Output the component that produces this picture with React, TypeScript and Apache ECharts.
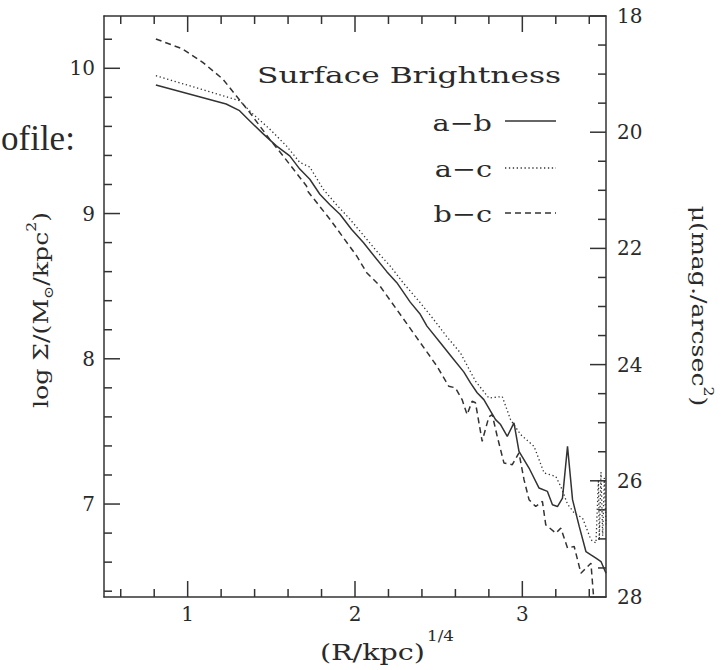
import React, { useEffect, useRef } from "react";
import * as echarts from "echarts";

// (R/kpc)^(1/4) vs log Sigma for three colour combinations
const xAB = [0.81, 1.23, 1.31, 1.37, 1.45, 1.53, 1.61, 1.67, 1.73, 1.79, 1.85, 1.91, 1.98, 2.05, 2.13, 2.19, 2.25, 2.33, 2.39, 2.43, 2.51, 2.59, 2.65, 2.69, 2.73, 2.77, 2.81, 2.84, 2.87, 2.91, 2.95, 2.98, 3.04, 3.10, 3.15, 3.18, 3.21, 3.24, 3.27, 3.30, 3.34, 3.38, 3.41, 3.44, 3.47, 3.50];
const yAB = [9.885, 9.754, 9.708, 9.639, 9.55, 9.466, 9.397, 9.306, 9.236, 9.133, 9.06, 8.995, 8.89, 8.80, 8.685, 8.60, 8.524, 8.39, 8.306, 8.225, 8.11, 7.995, 7.91, 7.834, 7.766, 7.719, 7.639, 7.581, 7.547, 7.466, 7.559, 7.363, 7.248, 7.11, 7.087, 6.995, 6.983, 7.041, 7.397, 7.03, 6.846, 6.673, 6.65, 6.628, 6.604, 6.524];

const xAC = [0.81, 1.31, 1.39, 1.49, 1.59, 1.67, 1.73, 1.81, 1.89, 1.97, 2.07, 2.13, 2.21, 2.29, 2.39, 2.47, 2.55, 2.63, 2.72, 2.80, 2.88, 2.93, 2.99, 3.07, 3.13, 3.20, 3.23, 3.27, 3.31, 3.36, 3.41, 3.44, 3.455, 3.46, 3.47, 3.48, 3.49, 3.50];
const yAC = [9.949, 9.777, 9.685, 9.582, 9.466, 9.352, 9.32, 9.168, 9.06, 8.961, 8.823, 8.74, 8.639, 8.52, 8.386, 8.271, 8.15, 8.041, 7.846, 7.73, 7.74, 7.58, 7.478, 7.397, 7.214, 7.19, 7.12, 7.0, 6.938, 6.903, 6.754, 6.731, 7.17, 6.75, 7.22, 6.78, 7.18, 6.86];

const xBC = [0.81, 0.97, 1.09, 1.21, 1.29, 1.37, 1.49, 1.57, 1.71, 1.72, 1.85, 2.01, 2.07, 2.15, 2.32, 2.49, 2.56, 2.60, 2.64, 2.67, 2.70, 2.72, 2.76, 2.80, 2.82, 2.85, 2.89, 2.94, 2.98, 3.01, 3.04, 3.08, 3.12, 3.14, 3.20, 3.23, 3.27, 3.31, 3.35, 3.39, 3.41, 3.43];
const yBC = [10.202, 10.133, 10.041, 9.926, 9.811, 9.697, 9.512, 9.397, 9.19, 9.15, 8.961, 8.708, 8.593, 8.50, 8.225, 7.949, 7.811, 7.80, 7.719, 7.616, 7.708, 7.697, 7.432, 7.60, 7.616, 7.466, 7.283, 7.271, 7.352, 7.168, 7.03, 6.983, 7.018, 6.857, 6.80, 6.834, 6.697, 6.708, 6.524, 6.57, 6.593, 6.30];

const seriesNames = ["a\u2212b", "a\u2212c", "b\u2212c"];

const X_MIN = 0.5, X_MAX = 3.5;
const L_MIN = 6.36, L_MAX = 10.36;
const R_MIN = 18, R_MAX = 28;

const xMajor = [1, 2, 3];
const xMinor = [0.6, 0.8, 1.2, 1.4, 1.6, 1.8, 2.2, 2.4, 2.6, 2.8, 3.2, 3.4];
const leftMajor = [7, 8, 9, 10];
const leftMinor = [6.4, 6.6, 6.8, 7.2, 7.4, 7.6, 7.8, 8.2, 8.4, 8.6, 8.8, 9.2, 9.4, 9.6, 9.8, 10.2];
const rightMajor = [18, 20, 22, 24, 26, 28];
const rightMinor = [18.5, 19, 19.5, 20.5, 21, 21.5, 22.5, 23, 23.5, 24.5, 25, 25.5, 26.5, 27, 27.5];

const FONT = "DejaVu Serif";
const INK = "#2a2a2a";
const LINE = "#333333";
const MAJOR_LEN = 16;
const MINOR_LEN = 8;

function pairs(xs: number[], ys: number[]) {
  return xs.map((x, i) => [x, ys[i]]);
}

export default function App() {
  const ref = useRef<HTMLDivElement>(null);
  useEffect(() => {
    if (!ref.current) return;
    const chart = echarts.init(ref.current, null, { renderer: "svg" });
    const axisLine = { show: true, onZero: false, lineStyle: { color: LINE, width: 1.5 } };
    const label = { fontFamily: FONT, fontSize: 20, color: INK };
    const tickStyle = { stroke: LINE, lineWidth: 1.5 };

    // x ticks: [value, length] drawn at bottom and top edges
    const xTickData = [
      ...xMajor.map((v) => [v, L_MIN, MAJOR_LEN]),
      ...xMinor.map((v) => [v, L_MIN, MINOR_LEN]),
    ];
    const leftTickData = [
      ...leftMajor.map((v) => [X_MIN, v, MAJOR_LEN]),
      ...leftMinor.map((v) => [X_MIN, v, MINOR_LEN]),
    ];
    const rightTickData = [
      ...rightMajor.map((v) => [X_MAX, v, MAJOR_LEN]),
      ...rightMinor.map((v) => [X_MAX, v, MINOR_LEN]),
    ];

    const txt = (text: string, x: number, y: number, size: number, align: string, sx: number, family = FONT) => ({
      type: "text",
      x,
      y,
      scaleX: sx,
      style: { text, fontFamily: family, fontSize: size, fill: INK, align, verticalAlign: "middle" },
    });

    chart.setOption({
      animation: false,
      backgroundColor: "#ffffff",
      grid: { left: 104, top: 16, width: 502, height: 581, containLabel: false },
      xAxis: [
        {
          type: "value", position: "bottom", min: X_MIN, max: X_MAX, axisLine, splitLine: { show: false },
          axisTick: { show: false }, axisLabel: { ...label, margin: 7, customValues: xMajor },
        },
        {
          type: "value", position: "top", min: X_MIN, max: X_MAX, axisLine, splitLine: { show: false },
          axisTick: { show: false }, axisLabel: { show: false },
        },
      ],
      yAxis: [
        {
          type: "value", position: "left", min: L_MIN, max: L_MAX, axisLine, splitLine: { show: false },
          axisTick: { show: false }, axisLabel: { ...label, margin: 9, customValues: leftMajor },
        },
        {
          type: "value", position: "right", min: R_MIN, max: R_MAX, inverse: true, axisLine, splitLine: { show: false },
          axisTick: { show: false }, axisLabel: { ...label, margin: 11, customValues: rightMajor },
        },
      ],
      series: [
        { name: seriesNames[0], type: "line", xAxisIndex: 0, yAxisIndex: 0, data: pairs(xAB, yAB), showSymbol: false, lineStyle: { color: LINE, width: 1.5, type: "solid" } },
        { name: seriesNames[1], type: "line", xAxisIndex: 0, yAxisIndex: 0, data: pairs(xAC, yAC), showSymbol: false, lineStyle: { color: LINE, width: 1.3, type: [1.3, 2.6] } },
        { name: seriesNames[2], type: "line", xAxisIndex: 0, yAxisIndex: 0, data: pairs(xBC, yBC), showSymbol: false, lineStyle: { color: LINE, width: 1.5, type: [6, 4] } },
        {
          type: "custom", xAxisIndex: 0, yAxisIndex: 0, silent: true, data: xTickData,
          renderItem: (_p: any, api: any) => {
            const v = api.value(0);
            const len = api.value(2);
            const b = api.coord([v, L_MIN]);
            const t = api.coord([v, L_MAX]);
            return {
              type: "group",
              children: [
                { type: "line", shape: { x1: b[0], y1: b[1], x2: b[0], y2: b[1] - len }, style: tickStyle },
                { type: "line", shape: { x1: t[0], y1: t[1], x2: t[0], y2: t[1] + len }, style: tickStyle },
              ],
            };
          },
        },
        {
          type: "custom", xAxisIndex: 0, yAxisIndex: 0, silent: true, data: leftTickData,
          renderItem: (_p: any, api: any) => {
            const len = api.value(2);
            const p = api.coord([X_MIN, api.value(1)]);
            return { type: "line", shape: { x1: p[0], y1: p[1], x2: p[0] + len, y2: p[1] }, style: tickStyle };
          },
        },
        {
          type: "custom", xAxisIndex: 0, yAxisIndex: 1, silent: true, data: rightTickData,
          renderItem: (_p: any, api: any) => {
            const len = api.value(2);
            const p = api.coord([X_MAX, api.value(1)]);
            return { type: "line", shape: { x1: p[0], y1: p[1], x2: p[0] - len, y2: p[1] }, style: tickStyle };
          },
        },
      ],
      graphic: [
        txt("ofile:", 1, 138, 35, "left", 1, "Liberation Serif"),
        txt("Surface Brightness", 409, 75, 23, "center", 1.36),
        txt(seriesNames[0], 492, 123, 23, "right", 1.25),
        txt(seriesNames[1], 492, 169, 23, "right", 1.25),
        txt(seriesNames[2], 492, 214, 23, "right", 1.25),
        { type: "line", shape: { x1: 505, y1: 121, x2: 556, y2: 121 }, style: { stroke: LINE, lineWidth: 1.5 } },
        { type: "line", shape: { x1: 505, y1: 168, x2: 556, y2: 168 }, style: { stroke: LINE, lineWidth: 1.3, lineDash: [1.3, 2.6] } },
        { type: "line", shape: { x1: 505, y1: 213, x2: 556, y2: 213 }, style: { stroke: LINE, lineWidth: 1.5, lineDash: [6, 4] } },
        txt("(R/kpc)", 425, 652, 22, "right", 1.3),
        txt("1/4", 427, 636, 14, "left", 1.2),
        {
          type: "text",
          x: 40,
          y: 310,
          rotation: Math.PI / 2,
          scaleX: 1.2,
          style: {
            text: "{a|log \u03A3/(M}{s|\u2299}{a|/kpc}{p|2}{a|)}",
            align: "center",
            verticalAlign: "middle",
            rich: {
              a: { fontFamily: FONT, fontSize: 21, fill: INK, lineHeight: 30 },
              s: { fontFamily: FONT, fontSize: 13, fill: INK, verticalAlign: "bottom", lineHeight: 30 },
              p: { fontFamily: FONT, fontSize: 13, fill: INK, verticalAlign: "top", lineHeight: 30 },
            },
          },
        },
        {
          type: "text",
          x: 700,
          y: 306,
          rotation: -Math.PI / 2,
          scaleX: 1.2,
          style: {
            text: "{a|\u03BC(mag./arcsec}{p|2}{a|)}",
            align: "center",
            verticalAlign: "middle",
            rich: {
              a: { fontFamily: FONT, fontSize: 21, fill: INK, lineHeight: 30 },
              p: { fontFamily: FONT, fontSize: 13, fill: INK, verticalAlign: "top", lineHeight: 30 },
            },
          },
        },
      ],
    });
    return () => chart.dispose();
  }, []);
  return <div ref={ref} style={{ width: 721, height: 670, position: "absolute", left: 0, top: 0 }} />;
}
